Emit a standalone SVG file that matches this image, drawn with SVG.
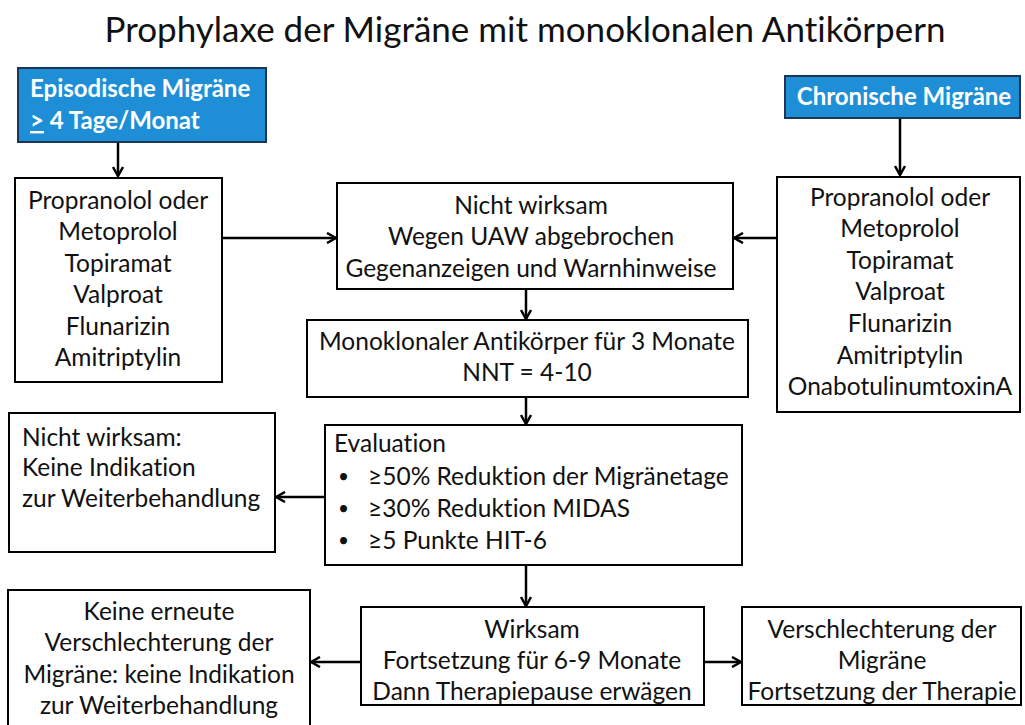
<svg xmlns="http://www.w3.org/2000/svg" width="1025" height="725" viewBox="0 0 1025 725">
<defs>
<style>
text{font-variant-ligatures:none}
.box{fill:#fff;stroke:#000;stroke-width:2}
.blue{fill:#1E8FD6;stroke:#1F3556;stroke-width:2}
.t{font-family:Lato,"Open Sans","Liberation Sans",sans-serif;font-size:24.5px;fill:#111}
.b{font-family:Lato,"Open Sans","Liberation Sans",sans-serif;font-size:19px;fill:#111}
.c{text-anchor:middle}
.w{font-family:Lato,"Open Sans","Liberation Sans",sans-serif;font-size:24px;font-weight:bold;fill:#fff}
.title{font-family:Lato,"Open Sans","Liberation Sans",sans-serif;font-size:35px;fill:#111;text-anchor:middle}
.con{fill:none;stroke:#000;stroke-width:2.5}
</style>
<marker id="ah" viewBox="0 0 12 12" refX="11" refY="6" markerWidth="12" markerHeight="12" markerUnits="userSpaceOnUse" orient="auto">
<path d="M2,1 L11,6 L2,11" fill="none" stroke="#000" stroke-width="2.5"/>
</marker>
</defs>
<rect width="1025" height="725" fill="#fff"/>
<text class="title" x="525" y="42">Prophylaxe der Migräne mit monoklonalen Antikörpern</text>

<g id="connectors">
<line class="con" x1="118" y1="143" x2="118" y2="176" marker-end="url(#ah)"/>
<line class="con" x1="900" y1="119" x2="900" y2="175" marker-end="url(#ah)"/>
<line class="con" x1="223" y1="238" x2="336" y2="238" marker-end="url(#ah)"/>
<line class="con" x1="776" y1="238" x2="734" y2="238" marker-end="url(#ah)"/>
<line class="con" x1="526" y1="290" x2="526" y2="319" marker-end="url(#ah)"/>
<line class="con" x1="526" y1="398" x2="526" y2="424" marker-end="url(#ah)"/>
<line class="con" x1="325" y1="497" x2="276" y2="497" marker-end="url(#ah)"/>
<line class="con" x1="526" y1="566" x2="526" y2="606" marker-end="url(#ah)"/>
<line class="con" x1="361" y1="662" x2="311" y2="662" marker-end="url(#ah)"/>
<line class="con" x1="704" y1="662" x2="741" y2="662" marker-end="url(#ah)"/>
</g>

<g id="episodisch">
<rect class="blue" x="18" y="68" width="248" height="74"/>
<text class="w" x="30" y="97">Episodische Migräne</text>
<text class="w" x="30" y="129"><tspan text-decoration="underline">&gt;</tspan> 4 Tage/Monat</text>
</g>

<g id="chronisch">
<rect class="blue" x="785" y="76" width="235" height="42"/>
<text class="w c" x="904" y="105">Chronische Migräne</text>
</g>

<g id="liste-links">
<rect class="box" x="15" y="178" width="207" height="204"/>
<text class="t c" x="118" y="209">Propranolol oder</text>
<text class="t c" x="118" y="240">Metoprolol</text>
<text class="t c" x="118" y="272">Topiramat</text>
<text class="t c" x="118" y="303">Valproat</text>
<text class="t c" x="118" y="335">Flunarizin</text>
<text class="t c" x="118" y="366">Amitriptylin</text>
</g>

<g id="liste-rechts">
<rect class="box" x="777" y="177" width="243" height="235"/>
<text class="t c" x="900" y="206">Propranolol oder</text>
<text class="t c" x="900" y="237">Metoprolol</text>
<text class="t c" x="900" y="269">Topiramat</text>
<text class="t c" x="900" y="300">Valproat</text>
<text class="t c" x="900" y="332">Flunarizin</text>
<text class="t c" x="900" y="364">Amitriptylin</text>
<text class="t c" x="900" y="395">OnabotulinumtoxinA</text>
</g>

<g id="nicht-wirksam-1">
<rect class="box" x="337" y="183" width="396" height="106"/>
<text class="t c" x="531" y="214">Nicht wirksam</text>
<text class="t c" x="531" y="245">Wegen UAW abgebrochen</text>
<text class="t c" x="531" y="277">Gegenanzeigen und Warnhinweise</text>
</g>

<g id="antikoerper">
<rect class="box" x="307" y="320" width="441" height="77"/>
<text class="t c" x="527" y="350">Monoklonaler Antikörper für 3 Monate</text>
<text class="t c" x="527" y="381">NNT = 4-10</text>
</g>

<g id="evaluation">
<rect class="box" x="325" y="425" width="417" height="140"/>
<text class="t" x="334" y="452">Evaluation</text>
<text class="b" x="338" y="483">•</text>
<text class="t" x="368" y="485">≥50% Reduktion der Migränetage</text>
<text class="b" x="338" y="515">•</text>
<text class="t" x="368" y="517">≥30% Reduktion MIDAS</text>
<text class="b" x="338" y="547">•</text>
<text class="t" x="368" y="549">≥5 Punkte HIT-6</text>
</g>

<g id="nicht-wirksam-2">
<rect class="box" x="9" y="413" width="266" height="139"/>
<text class="t" x="22" y="446">Nicht wirksam:</text>
<text class="t" x="22" y="476">Keine Indikation</text>
<text class="t" x="22" y="507">zur Weiterbehandlung</text>
</g>

<g id="wirksam">
<rect class="box" x="361" y="607" width="343" height="98"/>
<text class="t c" x="532" y="638">Wirksam</text>
<text class="t c" x="532" y="669">Fortsetzung für 6-9 Monate</text>
<text class="t c" x="532" y="700">Dann Therapiepause erwägen</text>
</g>

<g id="keine-verschlechterung">
<rect class="box" x="8" y="590" width="302" height="137"/>
<text class="t c" x="159" y="620">Keine erneute</text>
<text class="t c" x="159" y="651">Verschlechterung der</text>
<text class="t c" x="159" y="683">Migräne: keine Indikation</text>
<text class="t c" x="159" y="714">zur Weiterbehandlung</text>
</g>

<g id="verschlechterung">
<rect class="box" x="742" y="607" width="279" height="98"/>
<text class="t c" x="882" y="638">Verschlechterung der</text>
<text class="t c" x="882" y="669">Migräne</text>
<text class="t c" x="882" y="700">Fortsetzung der Therapie</text>
</g>
</svg>
